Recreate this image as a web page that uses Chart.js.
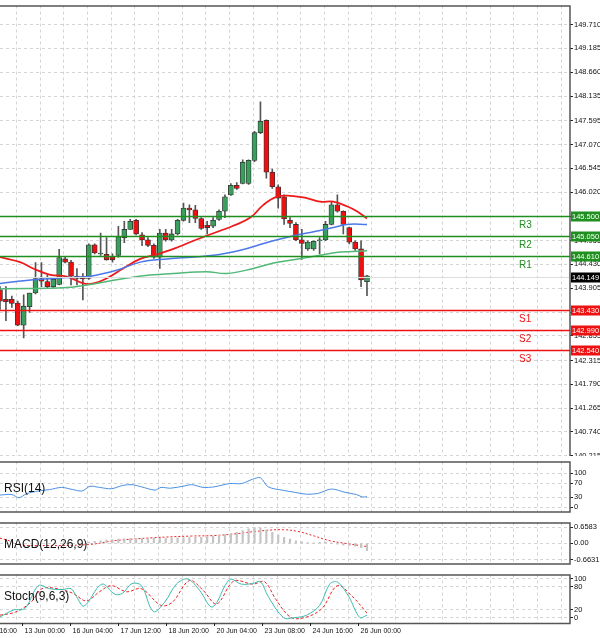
<!DOCTYPE html>
<html><head><meta charset="utf-8">
<script src="https://cdn.jsdelivr.net/npm/chart.js@4"></script>
<style>
body{margin:0;background:#fff;width:600px;height:638px;overflow:hidden;position:relative;font-family:"Liberation Sans",Arial,sans-serif}
.p{position:absolute;left:0;width:600px;background:#fff}
.lbl{position:absolute;left:4px;font-size:12px;color:#111}
</style></head><body>
<div class="p" style="top:0;height:462px"><canvas id="main"></canvas></div>
<div class="p" style="top:456px;height:61px"><canvas id="rsi"></canvas></div>
<div class="p" style="top:517px;height:52px"><canvas id="macd"></canvas></div>
<div class="p" style="top:569px;height:69px"><canvas id="stoch"></canvas></div>
<div class="lbl" style="top:481px">RSI(14)</div>
<div class="lbl" style="top:537px">MACD(12,26,9)</div>
<div class="lbl" style="top:589px">Stoch(9,6,3)</div>
<script>
// ---- data ----
const candles = [ // [open, high, low, close]
[143.87,143.94,143.44,143.62],[143.66,143.94,143.19,143.61],[143.66,143.73,143.48,143.57],[143.58,143.62,143.08,143.09],
[143.09,143.76,142.81,143.51],[143.50,143.80,143.37,143.80],[143.80,144.47,143.78,144.12],[144.12,144.47,143.94,144.06],
[144.05,144.19,143.91,143.94],[143.94,144.12,143.91,144.10],[143.99,144.76,143.98,144.58],[144.55,144.59,144.46,144.48],
[144.48,144.52,143.98,144.17],[144.17,144.34,143.98,144.12],[144.16,144.23,143.65,144.11],[144.12,144.88,144.10,144.86],
[144.86,144.88,144.66,144.68],[144.66,145.12,144.63,144.68],[144.65,145.02,144.52,144.53],[144.60,144.66,144.48,144.53],
[144.63,145.27,144.59,145.04],[145.02,145.38,144.91,145.20],[145.20,145.42,145.20,145.38],[145.40,145.42,145.08,145.10],
[145.08,145.13,144.84,144.97],[144.97,145.02,144.82,144.85],[144.85,144.88,144.56,144.59],[144.59,145.20,144.34,145.12],
[145.12,145.20,144.94,144.97],[144.97,145.20,144.94,145.10],[145.10,145.42,145.08,145.40],[145.40,145.78,145.38,145.67],
[145.67,145.74,145.35,145.63],[145.63,145.73,145.35,145.44],[145.44,145.46,145.20,145.22],[145.29,145.38,145.10,145.24],
[145.27,145.46,145.24,145.40],[145.42,145.63,145.40,145.60],[145.60,145.96,145.46,145.92],[145.96,146.21,145.95,146.17],
[146.17,146.23,146.08,146.10],[146.21,146.73,146.20,146.68],[146.21,146.73,146.19,146.72],[146.72,147.36,146.69,147.33],
[147.33,148.01,147.31,147.58],[147.60,147.61,146.33,146.46],[146.46,146.53,146.10,146.14],[146.14,146.18,145.67,145.89],
[145.92,145.96,145.31,145.43],[145.40,145.46,145.24,145.33],[145.31,145.35,144.95,144.97],[144.97,145.20,144.54,144.89],
[144.77,144.95,144.74,144.92],[144.77,144.95,144.74,144.94],[144.95,145.02,144.66,144.97],[144.97,145.38,144.95,145.31],
[145.31,145.81,145.30,145.74],[145.74,145.96,145.58,145.60],[145.60,145.61,145.10,145.31],[145.24,145.25,144.88,144.92],
[144.92,144.95,144.74,144.77],[144.77,144.95,143.94,144.09],[144.05,144.19,143.74,144.18]];
const maRedX = [0,3.4,5.6,8.5,11.3,14.1,15.8,18,20.8,23.7,26.5,29.3,32.7,34.9,37.2,39.4,42.3,44.5,46.8,49,51.8,54.1,56.3,58.6,60.3,62];
const maRedY = [144.59,144.48,144.34,144.20,144.16,144.01,144.01,144.12,144.34,144.55,144.65,144.77,144.95,145.06,145.17,145.28,145.46,145.74,145.92,145.94,145.89,145.81,145.81,145.71,145.60,145.44];
const maBlueX = [0,5.6,11.3,15.2,19.7,23.7,28.2,36.1,40.6,45.1,49.6,53,56.3,58.6,62];
const maBlueY = [144.01,144.09,144.14,144.17,144.30,144.48,144.55,144.63,144.74,144.91,145.06,145.15,145.24,145.31,145.31];
const maGreenX = [0,11.3,15.8,19.7,24.2,29.3,34.9,38.3,42.8,46.2,49.6,54.1,57.5,62];
const maGreenY = [143.89,143.92,144.00,144.09,144.18,144.23,144.27,144.23,144.34,144.46,144.53,144.63,144.70,144.73];
const priceTicks = [149.710,149.185,148.660,148.135,147.595,147.070,146.545,146.020,145.495,144.955,144.430,143.905,143.380,142.855,142.315,141.790,141.265,140.740,140.215];
const resLevels = [145.500,145.050,144.610], resNames = ["R3","R2","R1"];
const supLevels = [143.430,142.990,142.540], supNames = ["S1","S2","S3"];
const bidPrice = 144.149;
const rsiX = [0,2,3.2,4.5,6.5,8.4,10.4,12.3,13.9,15.2,16.8,18.8,20.7,22.3,23.9,26.2,27.2,28.8,31.1,32.4,34.3,36.2,38.8,40.8,42.7,44,45.3,47.9,49.8,51.8,53.7,56,58.3,60.2,61.2,62];
const rsiY = [36,37.6,28,40,48,52,58.4,52,48,61.6,58.4,54.4,64,66.4,60,50.4,58.4,56,62.4,66.4,58.4,60,69.6,69.6,82.4,86.4,60,49.6,44,38.4,40.8,53.6,44,37.6,30.4,31.2];
const macdHist = [0.05,0.08,0.1,0.13,0.15,0.17,0.19,0.2,0.21,0.21,0.22,0.22,0.21,0.21,0.22,0.23,0.23,0.24,0.25,0.25,0.27,0.3,0.33,0.36,0.4,0.45,0.52,0.6,0.65,0.63,0.55,0.45,0.35,0.25,0.18,0.1,0.06,0.03,0.02,0.04,0.05,0.02,-0.03,-0.08,-0.1,-0.12,-0.18,-0.3];
const macdHistStart = 15;
const macdSigX = [0,1.3,3.2,6.5,14.9,19.4,25.9,32.4,36.2,40.1,44,47.9,50.5,53.1,55.7,58.3,60.8,62];
const macdSigY = [0.21,0.13,-0.05,-0.09,-0.05,0.11,0.23,0.30,0.32,0.40,0.51,0.56,0.48,0.30,0.11,0,-0.09,-0.13];
const stKX = [0,2.3,4.2,6.5,8.4,10.4,12,12.9,14.2,17.2,19.4,20.7,22.3,23.9,25.9,27.8,29.8,31.7,33.7,35.9,38.8,40.8,42.7,44,45.3,47.9,49.8,51.8,54,55.7,57,58.9,60.8,62];
const stKY = [1.6,19.7,23.6,82.7,74.8,72.4,74.8,55,29.9,86.6,60.6,63,88.2,82.7,15.7,39.4,86.6,100,70.9,27.6,98.4,86.6,88.2,92.9,55,0,0,6.3,31.5,86.6,92.1,55,0,6.3];
const stDX = [0,2.6,5.2,7.1,9.7,12.3,14.6,16.8,18.8,21.4,23.9,27.2,29.1,32,34.3,36.6,39.5,42.7,44.7,46.6,49.2,51.8,54.4,57,59.5,62];
const stDY = [6.3,14.2,39.4,74.8,74.8,63,43.3,66.9,82.7,66.9,74.8,31.5,39.4,96.1,70.9,35.4,94.5,86.6,92.9,47.2,0,1.6,23.6,82.7,55,11.8];
const dateTickX = [-4.4,3.7,11.8,19.9,28,36.1,44.2,52.3,60.4];
const dateLabels = ["12 Jun 16:00","13 Jun 00:00","16 Jun 04:00","17 Jun 12:00","18 Jun 20:00","20 Jun 04:00","23 Jun 08:00","24 Jun 16:00","26 Jun 00:00"];

// ---- styling helpers ----
const XMAX = 96.3;
const gridX = []; for (let v = 2.8; v < XMAX; v += 4.0) gridX.push(v);
const FONT = {family:"Liberation Sans Narrow, Liberation Sans", size:7.5};
const zip = (xs, ys) => xs.map((x,i)=>({x, y: ys[i]}));
function xScale(extra){
  return Object.assign({type:'linear', min:0, max:XMAX, display:true, offset:false,
    grid:{color:'#d4d4d4', drawTicks:false, offset:false}, border:{display:false, dash:[3,3]},
    ticks:{display:false}, afterBuildTicks:s=>{s.ticks = gridX.map(v=>({value:v}));},
    afterFit:s=>{s.height=0;}}, extra||{});
}
function yScale(min,max,ticks,fmt){
  return {position:'right', min, max,
    grid:{color:'#d4d4d4', tickColor:'#222', tickLength:3}, border:{display:false, dash:[3,3]},
    ticks:{font:FONT, color:'#111', padding:1, callback:fmt, autoSkip:false},
    afterBuildTicks:s=>{s.ticks = ticks.map(v=>({value:v}));},
    afterFit:s=>{s.width=30;}};
}
const frame = {id:'frame', afterDraw(c){const a=c.chartArea,x=c.ctx;x.save();x.strokeStyle='#555';x.lineWidth=1.5;
  x.strokeRect(a.left-1,a.top+0.5,a.right-a.left+1,a.bottom-a.top);x.restore();}};
const base = {responsive:true, maintainAspectRatio:false, animation:false,
  plugins:{legend:{display:false}, tooltip:{enabled:false}}, events:[]};

// ---- main ----
const up = c => c[3] >= c[0];
const levelPlugin = {id:'levels', afterDatasetsDraw(c){
  const y=c.scales.y, a=c.chartArea, x=c.ctx; x.save();
  const draw=(v,col,name,boxCol,txt)=>{
    const py=Math.round(y.getPixelForValue(v))+0.5;
    if(col){x.strokeStyle=col;x.lineWidth=1.5;x.beginPath();x.moveTo(a.left,py);x.lineTo(a.right,py);x.stroke();}
    if(name){x.fillStyle=col;x.font='10px "Liberation Sans"';x.textAlign='left';x.textBaseline='top';x.fillText(name,519,py+4);}
    x.fillStyle=boxCol;x.fillRect(a.right+1,py-5,30,10);
    x.fillStyle='#fff';x.font='7.5px "Liberation Sans"';x.textBaseline='middle';x.fillText(txt,a.right+2,py+0.5);
  };
  x.strokeStyle='#ddd';x.lineWidth=1;const pb=Math.round(y.getPixelForValue(bidPrice))+0.5;
  x.beginPath();x.moveTo(a.left,pb);x.lineTo(a.right,pb);x.stroke();
  resLevels.forEach((v,i)=>draw(v,'#1f8f1f',resNames[i],'#1f8f1f',v.toFixed(3)));
  supLevels.forEach((v,i)=>draw(v,'#ee1111',supNames[i],'#ee1111',v.toFixed(3)));
  draw(bidPrice,null,null,'#000',bidPrice.toFixed(3));
  x.restore();}};
new Chart(document.getElementById('main'), {
  data:{datasets:[
    {type:'bar', data:candles.map((c,i)=>({x:i,y:[c[2],c[1]]})), backgroundColor:'#555', barThickness:1, grouped:false, order:3},
    {type:'bar', data:candles.map((c,i)=>({x:i,y:[c[0],c[3]===c[0]?c[0]+0.01:c[3]]})), grouped:false, order:2,
      backgroundColor:candles.map(c=>up(c)?'#3a9e5e':'#ee1010'), borderColor:'#333', borderWidth:0.8, borderSkipped:false, barThickness:5},
    {type:'line', data:zip(maGreenX,maGreenY), borderColor:'#52b878', borderWidth:1.5, pointRadius:0, tension:0.4, order:1},
    {type:'line', data:zip(maBlueX,maBlueY), borderColor:'#4a78e8', borderWidth:1.5, pointRadius:0, tension:0.4, order:1},
    {type:'line', data:zip(maRedX,maRedY), borderColor:'#ee1a1a', borderWidth:1.8, pointRadius:0, tension:0.4, order:1}
  ]},
  options:Object.assign({}, base, {layout:{padding:{top:4,bottom:1,left:0,right:0}},
    scales:{x:xScale(), y:yScale(140.20,150.13,priceTicks,v=>Number(v).toFixed(3))}}),
  plugins:[frame, levelPlugin]
});
// ---- RSI ----
new Chart(document.getElementById('rsi'), {
  data:{datasets:[{type:'line', data:zip(rsiX,rsiY), borderColor:'#4a90e2', borderWidth:1, pointRadius:0, tension:0.3}]},
  options:Object.assign({}, base, {layout:{padding:{top:1,bottom:1}},
    scales:{x:xScale(), y:yScale(-12,134,[0,30,70,100],v=>String(v))}}),
  plugins:[frame]
});
// ---- MACD ----
new Chart(document.getElementById('macd'), {
  data:{datasets:[
    {type:'bar', data:macdHist.map((v,i)=>({x:i+macdHistStart,y:v})), backgroundColor:'#c4c4c4', barThickness:1.5, grouped:false},
    {type:'line', data:zip(macdSigX,macdSigY), borderColor:'#ee2222', borderWidth:1, borderDash:[2,2], pointRadius:0, tension:0.4}]},
  options:Object.assign({}, base, {layout:{padding:{top:1,bottom:1}},
    scales:{x:xScale(), y:yScale(-0.828,0.856,[-0.6631,0,0.6583],v=>v===0?'0.00':Number(v).toFixed(4))}}),
  plugins:[frame]
});
// ---- Stoch ----
const datePlugin = {id:'dates', afterDraw(c){const s=c.scales.x,a=c.chartArea,x=c.ctx;x.save();
  x.font='7px "Liberation Sans"';x.fillStyle='#111';x.strokeStyle='#222';x.textBaseline='top';x.textAlign='left';
  dateTickX.forEach((v,i)=>{const px=Math.round(s.getPixelForValue(v))+0.5;
    x.beginPath();x.moveTo(px,a.bottom);x.lineTo(px,a.bottom+3);x.stroke();
    x.fillText(dateLabels[i],px+2,a.bottom+5);});x.restore();}};
new Chart(document.getElementById('stoch'), {
  data:{datasets:[
    {type:'line', data:zip(stKX,stKY), borderColor:'#3cbcb0', borderWidth:1, pointRadius:0, tension:0.35},
    {type:'line', data:zip(stDX,stDY), borderColor:'#ee2222', borderWidth:1, borderDash:[3,2], pointRadius:0, tension:0.35}]},
  options:Object.assign({}, base, {layout:{padding:{top:1,bottom:0}},
    scales:{x:xScale({afterFit:s=>{s.height=15;}}), y:yScale(-14,111.6,[0,20,80,100],v=>String(v))}}),
  plugins:[frame, datePlugin]
});
</script></body></html>
